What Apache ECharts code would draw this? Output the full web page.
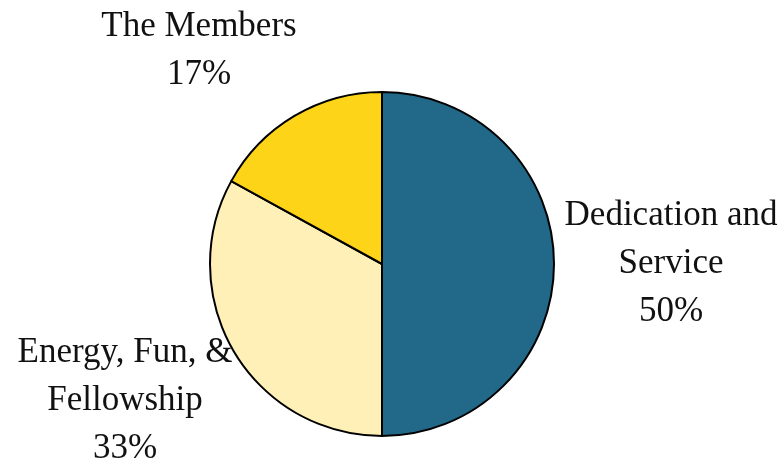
<!DOCTYPE html>
<html>
	<head>
		<meta charset="utf-8">
		<title>Pie</title>
		<script src="https://cdn.jsdelivr.net/npm/echarts@6/dist/echarts.min.js"></script>
	</head>
	<body style="margin:0;background:#fff;">
		<div id="main" style="width: 782px;height:466px;"></div>
		<script>
		var names = ['Dedication and\nService', 'Energy, Fun, &\nFellowship', 'The Members'];
		var values = [50, 33, 17];
		var colors = ['#226888', '#fef0b6', '#fdd417'];

		// label centers (x, y) for each slice
		var labelPos = [[671, 264], [125, 401], [199, 51]];

		var pieData = [];
		for (var i = 0; i < names.length; i++) {
			pieData.push({ name: names[i], value: values[i], itemStyle: { color: colors[i] } });
		}

		var myChart = echarts.init(document.getElementById('main'));
		var option = {
			animation: false,
			series: [
				{
					type: 'pie',
					center: [382, 264],
					radius: 172,
					startAngle: 90,
					clockwise: true,
					data: pieData,
					itemStyle: { borderColor: '#000', borderWidth: 2 },
					label: {
						show: true,
						position: 'outside',
						formatter: function (p) { return p.name + '\n' + Math.round(p.percent) + '%'; },
						fontFamily: 'Liberation Serif',
						fontSize: 35,
						lineHeight: 48,
						color: '#111',
						overflow: 'none',
						width: 400
					},
					labelLine: { show: false },
					labelLayout: function (params) {
						var pos = labelPos[params.dataIndex];
						return { x: pos[0], y: pos[1], align: 'center', verticalAlign: 'middle' };
					}
				}
			]
		};
		myChart.setOption(option);
		</script>
	</body>
</html>
